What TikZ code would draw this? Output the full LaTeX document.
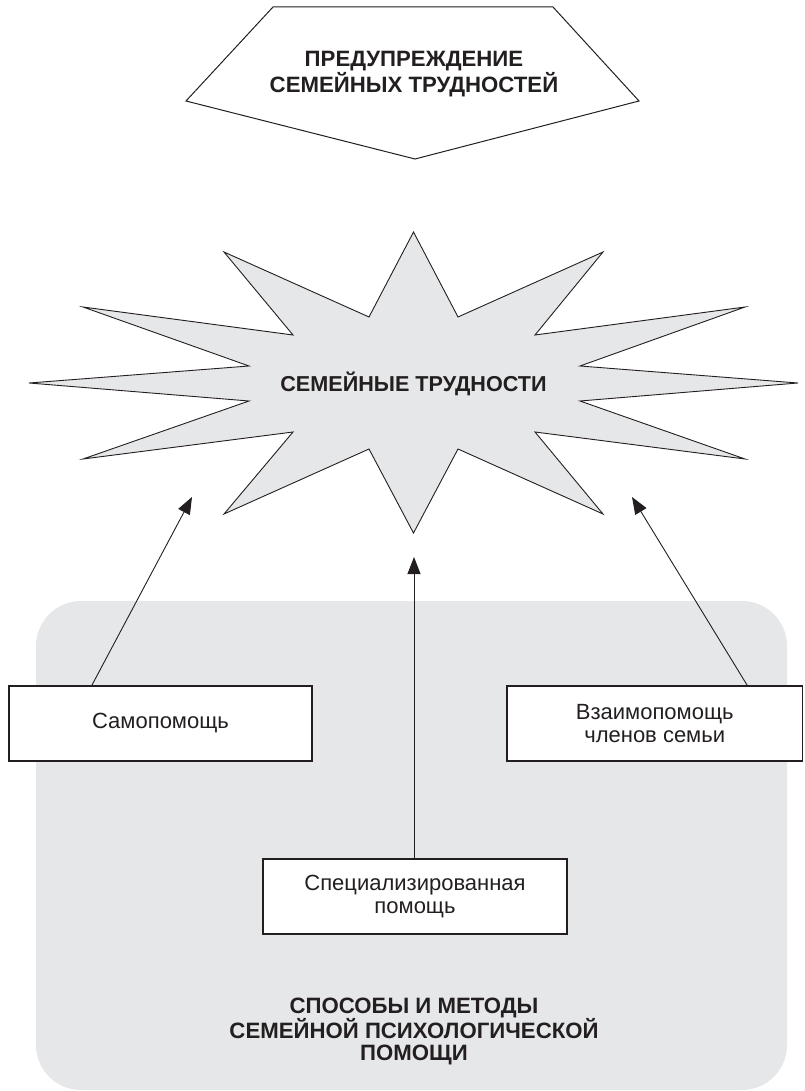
\documentclass[tikz,border=0pt]{standalone}
\usepackage{fontspec}
\setmainfont{Liberation Sans}
\usetikzlibrary{arrows.meta,calc}
\definecolor{panel}{HTML}{E6E7E9}
\definecolor{ink}{HTML}{231F20}

\begin{document}
\begin{tikzpicture}[x=1pt,y=-1pt,
  helpbox/.style={draw=ink, line width=1.1pt, fill=white, inner sep=0pt,
    align=center, text=ink, font=\fontsize{22}{23}\selectfont},
  heading/.style={align=center, text=ink, font=\fontsize{22.2}{21.8}\selectfont\bfseries},
  link/.style={draw=ink, line width=0.9pt, -{Triangle[length=17pt,width=13pt]}}]
\useasboundingbox (0,0) rectangle (804,1091);

% grey panel with the ways of helping
\fill[panel, rounded corners=45pt] (36,601) rectangle (787,1090);
\node[heading] (methods) at (414,1031.5)
  {СПОСОБЫ И МЕТОДЫ\\СЕМЕЙНОЙ ПСИХОЛОГИЧЕСКОЙ\\ПОМОЩИ};

% prevention banner (arrow pointing down)
\draw[ink, line width=1pt, fill=white]
  (273,7) -- (553,7) -- (639,101) -- (415,159) -- (186,101) -- cycle;
\node[heading] (prevent) at (414,74)
  {ПРЕДУПРЕЖДЕНИЕ\\СЕМЕЙНЫХ ТРУДНОСТЕЙ};

% burst for family difficulties
\draw[ink, line width=0.9pt, fill=panel, line join=miter]
  (413.5,232) -- (458,317) -- (603,252) -- (535,335) -- (745,307) -- (580,366)
  -- (798,383) -- (580,401) -- (745,459) -- (535,432) -- (603,514) -- (458,449)
  -- (413.5,533) -- (369,449) -- (224,514) -- (293,432) -- (83,459) -- (249,401)
  -- (29,383) -- (249,366) -- (83,307) -- (293,335) -- (224,252) -- (369,317)
  -- cycle;
\node[heading, font=\fontsize{21.6}{22}\selectfont\bfseries] (trouble) at (413.5,384)
  {СЕМЕЙНЫЕ ТРУДНОСТИ};

% arrow targets around the burst
\coordinate (tipL) at (192,497);
\coordinate (tipM) at (414,557);
\coordinate (tipR) at (632,497);

% boxes
\node[helpbox, minimum width=303pt, minimum height=75pt] (self) at (160.5,723.5)
  {Самопомощь};
\node[helpbox, minimum width=295.5pt, minimum height=75pt] (mutual) at (654.75,723.5)
  {Взаимопомощь\\членов семьи};
\node[helpbox, minimum width=304pt, minimum height=75pt] (special) at (415,896.5)
  {Специализированная\\помощь};

% connectors
\draw[link] ($(self.north west)!0.274!(self.north east)$) -- (tipL);
\draw[link] (special.north -| tipM) -- (tipM);
\draw[link] ($(mutual.north west)!0.812!(mutual.north east)$) -- (tipR);
\end{tikzpicture}
\end{document}
